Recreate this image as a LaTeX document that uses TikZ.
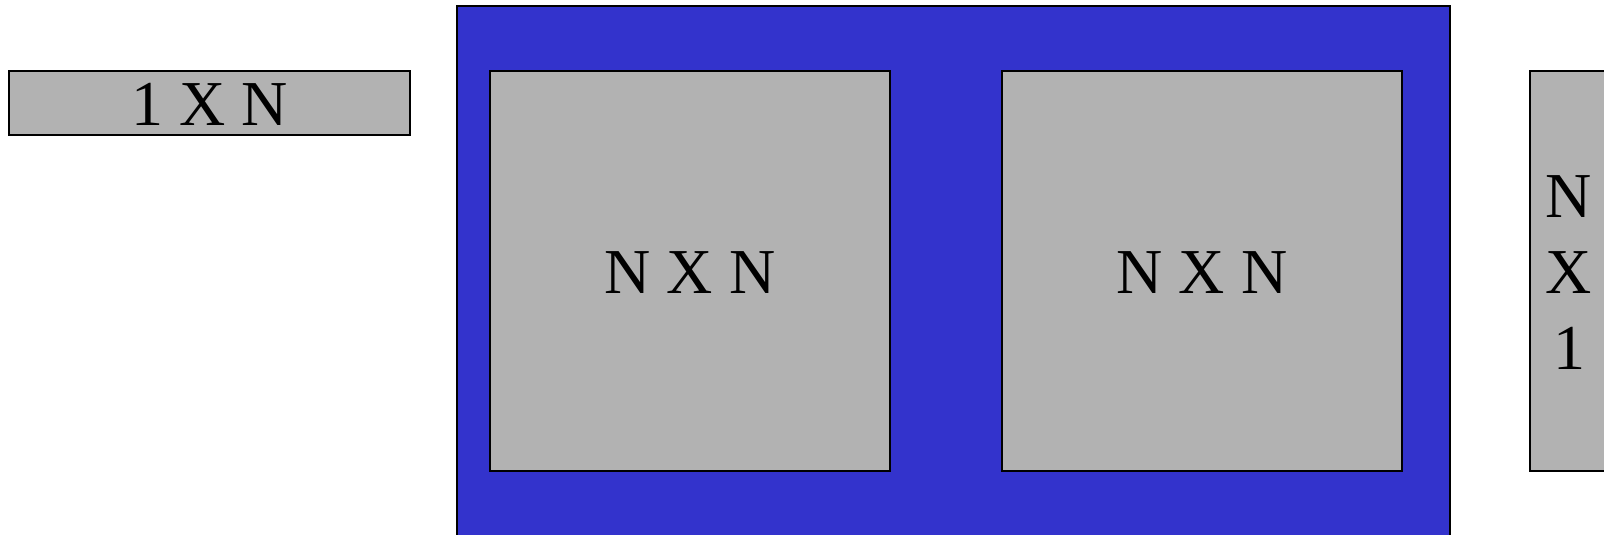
\documentclass[tikz,border=0pt]{standalone}
\usepackage{fontspec}
\setmainfont{Liberation Serif}
\definecolor{boxgray}{HTML}{B2B2B2}
\definecolor{panelblue}{HTML}{3333CC}
\begin{document}
\begin{tikzpicture}[x=1pt,y=-1pt,
  graybox/.style={draw=black,line width=2pt,fill=boxgray},
  bluepanel/.style={draw=black,line width=2pt,fill=panelblue},
  lbl/.style={font=\fontsize{64}{76}\selectfont,align=center,inner sep=0pt}]
\useasboundingbox (0,0) rectangle (1604,535);
\begin{scope}
\clip (0,0) rectangle (1604,535);
\draw[graybox] (9,71) rectangle (410,135);
\node[lbl] (rowvec) at (209.5,104) {1 X N};
\draw[bluepanel] (457,6) rectangle (1450,540);
\draw[graybox] (490,71) rectangle (890,471);
\node[lbl] (matA) at (690,273) {N X N};
\draw[graybox] (1002,71) rectangle (1402,471);
\node[lbl] (matB) at (1202,273) {N X N};
\draw[graybox] (1530,71) rectangle (1640,471);
\node[lbl] (colvec) at (1569,273) {N\\X\\1};
\end{scope}
\end{tikzpicture}
\end{document}
